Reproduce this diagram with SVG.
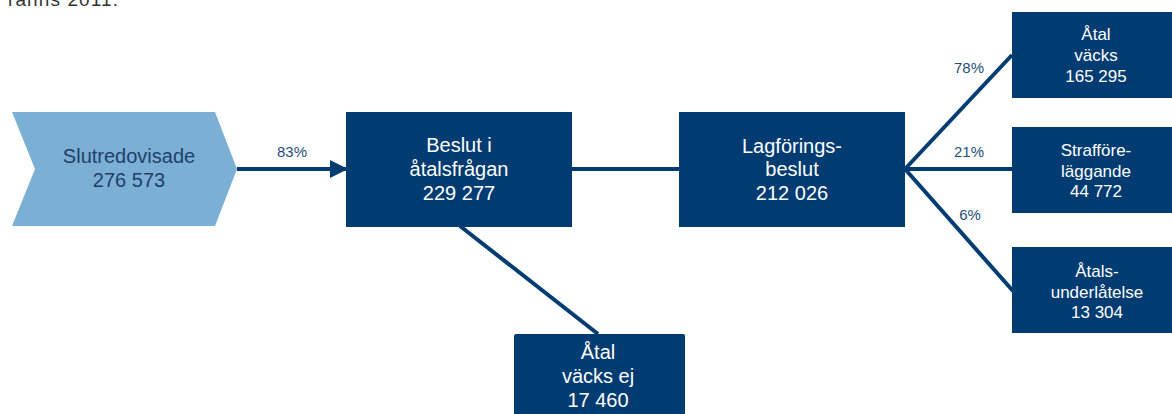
<svg xmlns="http://www.w3.org/2000/svg" width="1172" height="414" viewBox="0 0 1172 414">
<style>
.box{fill:#003B71}
.bt{font-family:"Liberation Sans",Arial,sans-serif;fill:#ffffff;text-anchor:middle}
.big{font-size:20px}
.sm{font-size:17px}
.pct{font-family:"Liberation Sans",Arial,sans-serif;font-size:15px;fill:#1F4E79;text-anchor:middle}
.ln{stroke:#003B71;stroke-width:4;fill:none}
</style>
<defs>
<marker id="ah" markerWidth="18" markerHeight="18" viewBox="0 0 18 18" refX="16" refY="9" orient="auto" markerUnits="userSpaceOnUse">
<path d="M0,0 L18,9 L0,18 Z" fill="#003B71"/>
</marker>
</defs>
<rect width="1172" height="414" fill="#ffffff"/>
<text x="8" y="6" font-family="Liberation Sans,Arial,sans-serif" font-size="19" fill="#333333" textLength="110" lengthAdjust="spacing">ranns 2011.</text>
<g id="connectors">
<line class="ln" x1="237" y1="169" x2="346" y2="169" marker-end="url(#ah)"/>
<line class="ln" x1="572" y1="169" x2="679" y2="169"/>
<line class="ln" x1="460" y1="226" x2="598" y2="334"/>
<line class="ln" x1="905" y1="169" x2="1012" y2="55"/>
<line class="ln" x1="905" y1="169" x2="1012" y2="169"/>
<line class="ln" x1="905" y1="169" x2="1013" y2="291"/>
<text class="pct" x="292" y="157">83%</text>
<text class="pct" x="969" y="73">78%</text>
<text class="pct" x="969" y="157">21%</text>
<text class="pct" x="970" y="220">6%</text>
</g>
<g id="slutredovisade">
<polygon points="12,112 215,112 237,169 215,226 12,226 35,169" fill="#7BAFD4"/>
<text class="bt big" x="129" y="163" fill="#1F3F6A" style="fill:#1F3F6A">Slutredovisade</text>
<text class="bt big" x="129" y="187" style="fill:#1F3F6A">276 573</text>
</g>
<g id="beslut">
<rect class="box" x="346" y="112" width="226" height="115"/>
<text class="bt big" x="459" y="152">Beslut i</text>
<text class="bt big" x="459" y="176">åtalsfrågan</text>
<text class="bt big" x="459" y="200">229 277</text>
</g>
<g id="lagforing">
<rect class="box" x="679" y="112" width="226" height="115"/>
<text class="bt big" x="792" y="153">Lagförings-</text>
<text class="bt big" x="792" y="176">beslut</text>
<text class="bt big" x="792" y="200">212 026</text>
</g>
<g id="atal-vacks">
<rect class="box" x="1012" y="12" width="170" height="86"/>
<text class="bt sm" x="1096" y="40">Åtal</text>
<text class="bt sm" x="1096" y="61">väcks</text>
<text class="bt sm" x="1096" y="82">165 295</text>
</g>
<g id="strafforelaggande">
<rect class="box" x="1012" y="127" width="170" height="86"/>
<text class="bt sm" x="1096" y="156">Strafföre-</text>
<text class="bt sm" x="1096" y="177">läggande</text>
<text class="bt sm" x="1096" y="197">44 772</text>
</g>
<g id="atalsunderlatelse">
<rect class="box" x="1012" y="247" width="170" height="86"/>
<text class="bt sm" x="1097" y="277">Åtals-</text>
<text class="bt sm" x="1097" y="298">underlåtelse</text>
<text class="bt sm" x="1097" y="318">13 304</text>
</g>
<g id="atal-vacks-ej">
<rect class="box" x="514" y="334" width="171" height="90" rx="2"/>
<text class="bt big" x="598" y="359">Åtal</text>
<text class="bt big" x="598" y="383">väcks ej</text>
<text class="bt big" x="598" y="407">17 460</text>
</g>
</svg>
